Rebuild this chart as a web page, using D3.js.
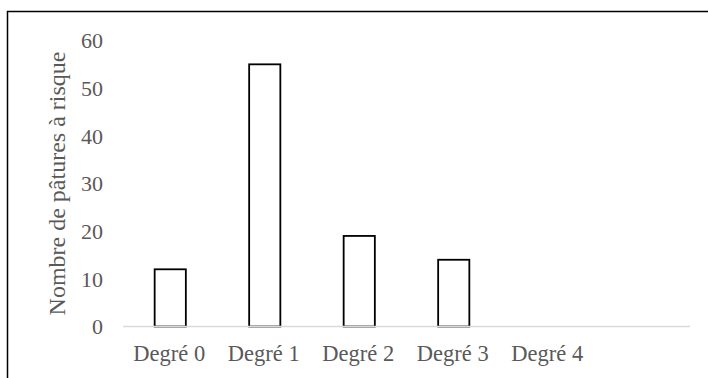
<!DOCTYPE html>
<html>
<head>
<meta charset="utf-8">
<script src="https://cdn.jsdelivr.net/npm/d3@7"></script>
<style>
  html, body { margin: 0; padding: 0; background: #fff; }
  svg { display: block; }
  svg text { font-family: "Liberation Serif", "Times New Roman", Times, serif; }
</style>
</head>
<body>
<svg id="chart" width="708" height="378"></svg>
<script>
const categories = ["Degré 0", "Degré 1", "Degré 2", "Degré 3", "Degré 4", ""];
const values = [12, 55, 19, 14, 0, null];
const yTicks = [0, 10, 20, 30, 40, 50, 60];
const yTitle = "Nombre de pâtures à risque";

const svg = d3.select("#chart");
const W = 708, H = 378;
const margin = { left: 123, right: 18, top: 40.5, bottom: 51.5 };

const x = d3.scaleBand().domain(categories).range([margin.left, W - margin.right]).padding(0);
const y = d3.scaleLinear().domain([0, 60]).range([H - margin.bottom, margin.top]);

// outer border (top & left visible)
svg.append("path")
  .attr("d", `M7.5,378 L7.5,11.5 L708,11.5`)
  .attr("fill", "none").attr("stroke", "#000").attr("stroke-width", 1.5);

const bwRatio = 0.33;
const data = categories.map((c, i) => ({ c, v: values[i] })).filter(d => d.v);
svg.append("g").selectAll("rect").data(data).join("rect")
  .attr("x", d => x(d.c) + x.bandwidth() * (1 - bwRatio) / 2)
  .attr("width", x.bandwidth() * bwRatio)
  .attr("y", d => y(d.v))
  .attr("height", d => y(0) - y(d.v))
  .attr("fill", "#fff").attr("stroke", "#000").attr("stroke-width", 1.8);

// x axis line
svg.append("line")
  .attr("x1", x.range()[0]).attr("x2", x.range()[1])
  .attr("y1", y(0)).attr("y2", y(0))
  .attr("stroke", "#d9d9d9").attr("stroke-width", 1.5);

const grey = "#595959";

// y tick labels
svg.append("g").selectAll("text").data(yTicks).join("text")
  .attr("x", 103).attr("y", d => y(d))
  .attr("dy", "0.35em").attr("text-anchor", "end")
  .attr("font-size", 22).attr("fill", grey)
  .text(d => d);

// x tick labels
svg.append("g").selectAll("text").data(categories).join("text")
  .attr("x", d => x(d) + x.bandwidth() / 2 - 1).attr("y", 361)
  .attr("text-anchor", "middle")
  .attr("font-size", 22.5).attr("fill", grey)
  .text(d => d);

// y title
svg.append("text")
  .attr("transform", `translate(65,${(y(0) + y(60)) / 2}) rotate(-90)`)
  .attr("text-anchor", "middle")
  .attr("font-size", 24).attr("fill", grey)
  .text(yTitle);
</script>
</body>
</html>
